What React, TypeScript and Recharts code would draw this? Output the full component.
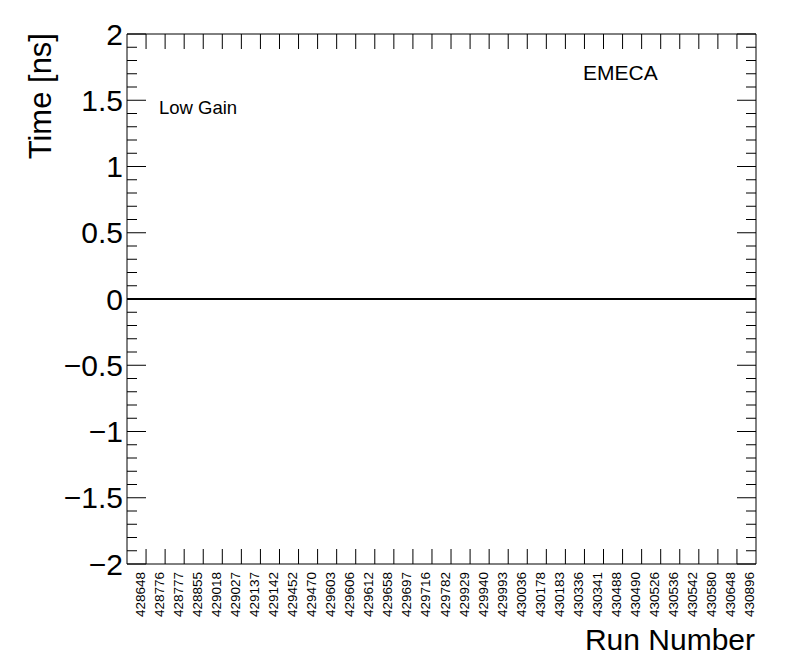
import { ComposedChart, Line, XAxis, YAxis } from "recharts";

// run numbers on the x axis, one bin each
const RUNS = [
  "428648", "428776", "428777", "428855", "429018", "429027", "429137", "429142",
  "429452", "429470", "429603", "429606", "429612", "429658", "429697", "429716",
  "429782", "429929", "429940", "429993", "430036", "430178", "430183", "430336",
  "430341", "430488", "430490", "430526", "430536", "430542", "430580", "430648",
  "430896",
];

// time offset per run [ns]
const TIME = [
  0, 0, 0, 0, 0, 0, 0, 0, 0, 0, 0, 0, 0, 0, 0, 0, 0,
  0, 0, 0, 0, 0, 0, 0, 0, 0, 0, 0, 0, 0, 0, 0, 0,
];

const Y_MAJOR = [-2, -1.5, -1, -0.5, 0, 0.5, 1, 1.5, 2];
const Y_TICKS = Array.from({ length: 41 }, (_, i) => Math.round((i * 0.1 - 2) * 10) / 10);

const FONT = "'Liberation Sans', Arial, Helvetica, sans-serif";
const W = 796;
const H = 672;
const PLOT_W = 629;
const HALF_BIN = PLOT_W / RUNS.length / 2;

// histogram-like step points: bin low edges plus closing edge
const points = TIME.map((t, i) => ({ x: i, t }));
points.push({ x: RUNS.length, t: TIME[TIME.length - 1] });

const binCenters = RUNS.map((_, i) => i + 0.5);
const binEdges = RUNS.slice(1).map((_, i) => i + 1);

const isMajor = (v: number) => Y_MAJOR.some((m) => Math.abs(m - v) < 1e-6);
const fmtY = (v: number) => {
  const s = String(v);
  return s.startsWith("-") ? "\u2212" + s.slice(1) : s;
};

function LeftTick(props: any) {
  const { x, y, payload } = props;
  const major = isMajor(payload.value);
  return (
    <g>
      <line x1={x} x2={x + (major ? 19 : 10)} y1={y} y2={y} stroke="#000" strokeWidth={1} />
      {major && (
        <text x={x - 4} y={y} textAnchor="end" dominantBaseline="central" fontSize={30} fontFamily={FONT} fill="#000">
          {fmtY(payload.value)}
        </text>
      )}
    </g>
  );
}

function RightTick(props: any) {
  const { x, y, payload } = props;
  const major = isMajor(payload.value);
  return <line x1={x} x2={x - (major ? 19 : 10)} y1={y} y2={y} stroke="#000" strokeWidth={1} />;
}

function TopTick(props: any) {
  const { x, y } = props;
  return <line x1={x} x2={x} y1={y} y2={y + 15} stroke="#000" strokeWidth={1} />;
}

function BottomTick(props: any) {
  const { x, y, payload } = props;
  const idx = Math.floor(payload.value);
  const edge = x + HALF_BIN;
  return (
    <g>
      {idx < RUNS.length - 1 && <line x1={edge} x2={edge} y1={y} y2={y - 15} stroke="#000" strokeWidth={1} />}
      <text
        x={x + 8}
        y={y + 8}
        transform={`rotate(-90, ${x + 8}, ${y + 8})`}
        textAnchor="end"
        fontSize={13.5}
        fontFamily={FONT}
        fill="#000"
      >
        {RUNS[idx]}
      </text>
    </g>
  );
}

export default function App() {
  return (
    <div style={{ position: "absolute", left: 0, top: 0, width: W, height: H, background: "#fff" }}>
      <ComposedChart width={W} height={H} data={points} margin={{ top: 30, right: 30, bottom: 48, left: 67 }}>
        <XAxis
          dataKey="x"
          type="number"
          domain={[0, RUNS.length]}
          ticks={binCenters}
          interval={0}
          height={60}
          tickSize={0}
          tickMargin={0}
          tickLine={false}
          axisLine={{ stroke: "#000" }}
          tick={<BottomTick />}
        />
        <XAxis
          xAxisId="top"
          orientation="top"
          type="number"
          domain={[0, RUNS.length]}
          ticks={binEdges}
          interval={0}
          height={4}
          tickSize={0}
          tickMargin={0}
          tickLine={false}
          axisLine={{ stroke: "#000" }}
          tick={<TopTick />}
          allowDataOverflow
        />
        <YAxis
          type="number"
          domain={[-2, 2]}
          ticks={Y_TICKS}
          interval={0}
          width={60}
          tickSize={0}
          tickMargin={0}
          tickLine={false}
          axisLine={{ stroke: "#000" }}
          tick={<LeftTick />}
          allowDataOverflow
        />
        <YAxis
          yAxisId="right"
          orientation="right"
          type="number"
          domain={[-2, 2]}
          ticks={Y_TICKS}
          interval={0}
          width={10}
          tickSize={0}
          tickMargin={0}
          tickLine={false}
          axisLine={{ stroke: "#000" }}
          tick={<RightTick />}
          allowDataOverflow
        />
        <Line
          dataKey="t"
          type="stepAfter"
          stroke="#000"
          strokeWidth={2}
          dot={false}
          activeDot={false}
          isAnimationActive={false}
        />
        <text x={51} y={33} transform="rotate(-90, 51, 33)" textAnchor="end" fontSize={31} fontFamily={FONT} fill="#000">
          Time [ns]
        </text>
        <text x={755} y={650} textAnchor="end" fontSize={30} fontFamily={FONT} fill="#000">
          Run Number
        </text>
        <text x={159} y={114} fontSize={18.5} fontFamily={FONT} fill="#000">
          Low Gain
        </text>
        <text x={583} y={80} fontSize={21} fontFamily={FONT} fill="#000">
          EMECA
        </text>
      </ComposedChart>
    </div>
  );
}
